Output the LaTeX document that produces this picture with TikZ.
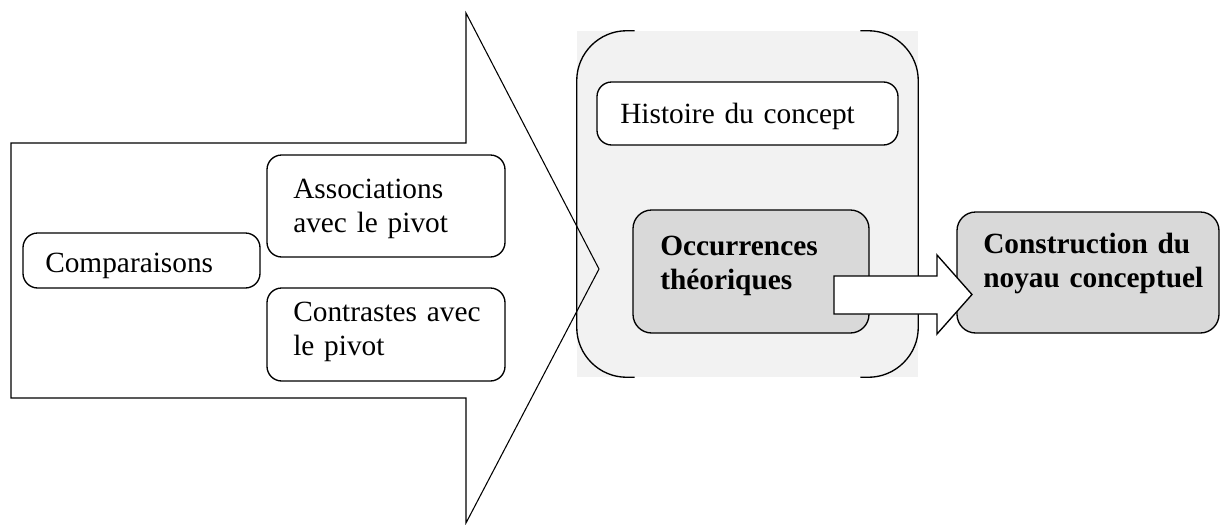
\documentclass[tikz,border=0pt]{standalone}
\usepackage{fontspec}
\setmainfont{Liberation Serif}
\usetikzlibrary{fit,calc}
\definecolor{panelgray}{HTML}{F2F2F2}
\definecolor{boxgray}{HTML}{D9D9D9}
\tikzset{
  boxbase/.style={rectangle, inner sep=0pt, line width=1pt, draw=black},
  wbox/.style={boxbase, fill=white, rounded corners=11pt},
  gbox/.style={boxbase, fill=boxgray, rounded corners=14pt},
  txt/.style={inner sep=0pt, align=left, text width=#1,
    font=\fontsize{22}{26}\selectfont},
  btxt/.style={txt=#1, font=\fontsize{22}{26}\selectfont\bfseries},
  outline/.style={line width=0.8pt, draw=black, line join=miter},
}
\begin{document}
\begin{tikzpicture}[x=0.75pt, y=-0.75pt]
\useasboundingbox (0,0) rectangle (1222,525);

% grey panel: filled, only its sides and corners are stroked
\node[fill=panelgray, inner sep=0pt, fit={(577,31) (918,377)}] (panel) {};
\draw[line width=1pt, rounded corners=37.5pt]
  ($(panel.north west)+(58,0)$) -- (panel.north west) -- (panel.south west) -- ($(panel.south west)+(58,0)$);
\draw[line width=1pt, rounded corners=37.5pt]
  ($(panel.north east)+(-58,0)$) -- (panel.north east) -- (panel.south east) -- ($(panel.south east)+(-58,0)$);

\node[wbox, fit={(597,82) (898,145)}] (hist) {};
\node[txt=8cm, anchor=base west] (histT) at (620,123) {Histoire du concept};

\node[gbox, fit={(633,210) (869,333)}] (occ) {};
\node[btxt=6cm, anchor=base west] (occT) at (660,255) {Occurrences\\théoriques};

% large open arrow
\draw[outline] (11,143) -- (466,143) -- (466,13) -- (599,269) -- (466,523) -- (466,398) -- (11,398) -- cycle;

\node[wbox, fit={(23,233) (260,288)}] (comp) {};
\node[txt=6cm, anchor=base west] (compT) at (45,272) {Comparaisons};

\node[wbox, fit={(267,155) (505,257)}] (assoc) {};
\node[txt=6cm, anchor=base west] (assocT) at (293,198) {Associations\\avec le pivot};

\node[wbox, fit={(267,288) (505,381)}] (contr) {};
\node[txt=6cm, anchor=base west] (contrT) at (293,321) {Contrastes avec\\le pivot};

\node[gbox, fit={(957,212) (1219,333)}] (cons) {};
\node[btxt=7cm, anchor=base west] (consT) at (983,253) {Construction du\\noyau conceptuel};

% block arrow from the theoretical occurrences to the construction box
\draw[line width=1pt, fill=white, line join=miter]
  (834,276) -- (937,276) -- (937,255) -- (972,294.5) -- (937,334) -- (937,314) -- (834,314) -- cycle;
\end{tikzpicture}
\end{document}
